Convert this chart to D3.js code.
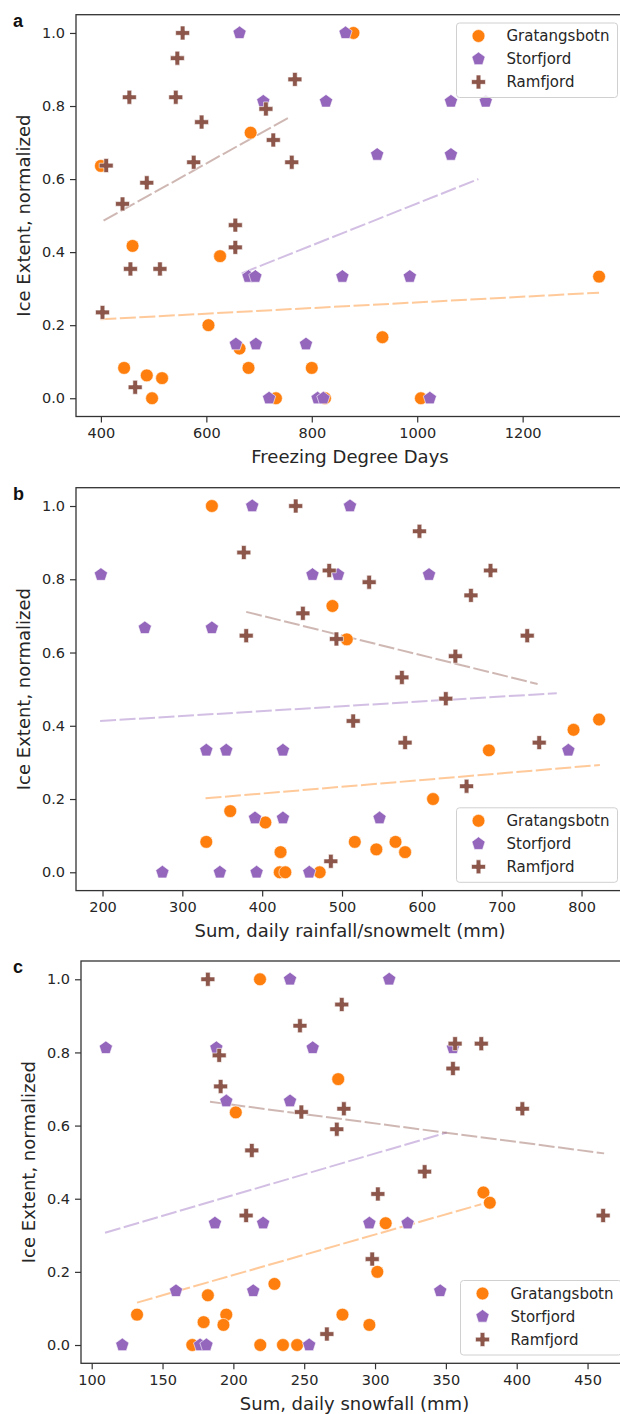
<!DOCTYPE html>
<html><head><meta charset="utf-8">
<script src="https://cdn.jsdelivr.net/npm/d3@7"></script>
<style>
body{margin:0;background:#fff}
svg{display:block}
</style>
</head><body>
<svg id="chart" width="620" height="1414"></svg>
<script>
// ---------- DATA ----------
const seriesNames = ["Gratangsbotn", "Storfjord", "Ramfjord"];
const yTicks = [0.0, 0.2, 0.4, 0.6, 0.8, 1.0];
const yLabel = "Ice Extent, normalized";

// Panel a: Freezing Degree Days
const aXLabel = "Freezing Degree Days";
const aXTicks = [400, 600, 800, 1000, 1200];
const aGratX = [400, 684, 879, 460, 626, 604, 663, 680, 444, 487, 516, 497, 732, 800, 825, 934, 1007, 1345];
const aGratY = [0.636, 0.727, 1.0, 0.417, 0.389, 0.2, 0.136, 0.083, 0.083, 0.0625, 0.055, 0, 0, 0.083, 0, 0.167, 0, 0.333];
const aStorX = [663, 708, 864, 827, 1064, 1130, 924, 1064, 680, 693, 656, 694, 789, 719, 811, 822, 858, 986, 1024];
const aStorY = [1.0, 0.8125, 1.0, 0.8125, 0.8125, 0.8125, 0.667, 0.667, 0.333, 0.333, 0.148, 0.148, 0.148, 0, 0, 0, 0.333, 0.333, 0];
const aRamX = [555, 545, 454, 542, 768, 713, 591, 727, 576, 762, 410, 487, 441, 655, 655, 456, 512, 403, 465];
const aRamY = [1.0, 0.931, 0.824, 0.824, 0.873, 0.792, 0.756, 0.707, 0.646, 0.646, 0.637, 0.590, 0.532, 0.474, 0.413, 0.354, 0.354, 0.235, 0.030];
// trend lines: [x0, y0, x1, y1]
const aGratTrend = [399, 0.216, 1345, 0.289];
const aStorTrend = [667, 0.342, 1116, 0.600];
const aRamTrend = [405, 0.486, 757, 0.769];

// Panel b: Sum, daily rainfall/snowmelt (mm)
const bXLabel = "Sum, daily rainfall/snowmelt (mm)";
const bXTicks = [200, 300, 400, 500, 600, 700, 800];
const bGratX = [337, 488, 506, 360, 404, 330, 423, 422, 429, 472, 516, 543, 567, 579, 614, 684, 790, 822];
const bGratY = [1.0, 0.727, 0.636, 0.167, 0.136, 0.083, 0.055, 0, 0, 0, 0.083, 0.0625, 0.083, 0.055, 0.2, 0.333, 0.389, 0.417];
const bStorX = [387.5, 198, 463, 253, 337, 510, 495, 609, 330, 355, 426, 391, 426, 275, 347, 393, 459, 547, 783.5];
const bStorY = [1.0, 0.8125, 0.8125, 0.667, 0.667, 1.0, 0.8125, 0.8125, 0.333, 0.333, 0.333, 0.148, 0.148, 0, 0, 0, 0, 0.148, 0.333];
const bRamX = [442, 377, 451, 380, 597, 484, 686, 534, 661.5, 732, 493, 642, 575, 630, 514, 579, 747, 656, 486];
const bRamY = [1.0, 0.873, 0.707, 0.646, 0.931, 0.824, 0.824, 0.792, 0.756, 0.646, 0.637, 0.590, 0.532, 0.474, 0.413, 0.354, 0.354, 0.235, 0.030];
const bGratTrend = [329, 0.202, 823, 0.293];
const bStorTrend = [197, 0.413, 769, 0.489];
const bRamTrend = [380, 0.711, 745, 0.514];

// Panel c: Sum, daily snowfall (mm)
const cXLabel = "Sum, daily snowfall (mm)";
const cXTicks = [100, 150, 200, 250, 300, 350, 400, 450];
const cGratX = [218.8, 201.7, 274, 132, 182, 179, 195, 193, 229, 171, 219, 235, 245, 277, 296, 301.6, 307.5, 376.5, 381];
const cGratY = [1.0, 0.636, 0.727, 0.083, 0.136, 0.0625, 0.083, 0.055, 0.167, 0, 0, 0, 0, 0.083, 0.055, 0.2, 0.333, 0.417, 0.389];
const cStorX = [240, 110, 188, 256, 195, 240, 310, 355, 187, 221, 159.5, 214, 121.6, 176.5, 181, 253.5, 296, 323, 346];
const cStorY = [1.0, 0.8125, 0.8125, 0.8125, 0.667, 0.667, 1.0, 0.8125, 0.333, 0.333, 0.148, 0.148, 0, 0, 0, 0, 0.333, 0.333, 0.148];
const cRamX = [182, 247, 190, 191, 248, 213, 276.5, 356.5, 375, 355, 278, 404, 273, 335, 209, 302, 461, 298, 266];
const cRamY = [1.0, 0.873, 0.792, 0.707, 0.637, 0.532, 0.931, 0.824, 0.824, 0.756, 0.646, 0.646, 0.590, 0.474, 0.354, 0.413, 0.354, 0.235, 0.030];
const cGratTrend = [132, 0.116, 375, 0.385];
const cStorTrend = [109.4, 0.307, 350.6, 0.581];
const cRamTrend = [183.5, 0.665, 461.7, 0.524];

// ---------- STYLE / LAYOUT ----------
const colors = ["#ff7f0e", "#9467bd", "#8c564b"];
const textColor = "#262626";
const fontFam = "'DejaVu Sans', Verdana, sans-serif";

const panels = [
  { label: "a", xLabel: aXLabel, xTicks: aXTicks, xDomain: [352.75, 1392.25],
    left: 76, right: 624, top: 14.7, bottom: 416.5, ylabX: 30,
    series: [[aGratX, aGratY, aGratTrend], [aStorX, aStorY, aStorTrend], [aRamX, aRamY, aRamTrend]],
    legendPos: "top" },
  { label: "b", xLabel: bXLabel, xTicks: bXTicks, xDomain: [166.8, 853.2],
    left: 76, right: 624, top: 487.7, bottom: 890.6, ylabX: 30,
    series: [[bGratX, bGratY, bGratTrend], [bStorX, bStorY, bStorTrend], [bRamX, bRamY, bRamTrend]],
    legendPos: "bottom" },
  { label: "c", xLabel: cXLabel, xTicks: cXTicks, xDomain: [92.45, 478.55],
    left: 81, right: 628, top: 961, bottom: 1363.3, ylabX: 35,
    series: [[cGratX, cGratY, cGratTrend], [cStorX, cStorY, cStorTrend], [cRamX, cRamY, cRamTrend]],
    legendPos: "bottom" }
];

const pentagon = {
  draw(ctx, size) {
    const R = Math.sqrt(size / 2.3776);
    for (let i = 0; i < 5; i++) {
      const a = -Math.PI / 2 + i * 2 * Math.PI / 5;
      const px = R * Math.cos(a), py = R * Math.sin(a);
      if (i) ctx.lineTo(px, py); else ctx.moveTo(px, py);
    }
    ctx.closePath();
  }
};
const symbolTypes = [d3.symbolCircle, pentagon, d3.symbolCross];
const symbolSizes = [130, 115, 108];
const symGen = seriesNames.map((_, i) => d3.symbol().type(symbolTypes[i]).size(symbolSizes[i]));

const svg = d3.select("#chart");

panels.forEach(p => {
  const x = d3.scaleLinear().domain(p.xDomain).range([p.left, p.right]);
  const y = d3.scaleLinear().domain([-0.05, 1.05]).range([p.bottom, p.top]);
  const g = svg.append("g");

  const clipId = "clip-" + p.label;
  svg.append("clipPath").attr("id", clipId).append("rect")
    .attr("x", p.left).attr("y", p.top).attr("width", p.right - p.left).attr("height", p.bottom - p.top);

  const xAxis = g.append("g").attr("transform", `translate(0,${p.bottom})`)
    .call(d3.axisBottom(x).tickValues(p.xTicks).tickSize(6).tickSizeOuter(0).tickPadding(5.5).tickFormat(d3.format("d")));
  const yAxis = g.append("g").attr("transform", `translate(${p.left},0)`)
    .call(d3.axisLeft(y).tickValues(yTicks).tickSize(6).tickSizeOuter(0).tickPadding(5).tickFormat(d3.format(".1f")));
  [xAxis, yAxis].forEach(ax => {
    ax.select(".domain").remove();
    ax.selectAll(".tick line").attr("stroke", "#333").attr("stroke-width", 1.2);
    ax.selectAll(".tick text").attr("fill", textColor).style("font-family", fontFam).style("font-size", "14.5px");
  });

  const plotG = g.append("g").attr("clip-path", `url(#${clipId})`);
  p.series.forEach((s, i) => {
    const t = s[2];
    plotG.append("line")
      .attr("x1", x(t[0])).attr("y1", y(t[1])).attr("x2", x(t[2])).attr("y2", y(t[3]))
      .attr("stroke", colors[i]).attr("stroke-opacity", 0.42).attr("stroke-width", 2)
      .attr("stroke-dasharray", "16,3.5");
  });
  p.series.forEach((s, i) => {
    const pts = s[0].map((xv, j) => [xv, s[1][j]]);
    plotG.append("g").selectAll("path").data(pts).join("path")
      .attr("d", symGen[i])
      .attr("transform", d => `translate(${x(d[0])},${y(d[1])})`)
      .attr("fill", colors[i]).attr("stroke", "#fff").attr("stroke-width", 0.6);
  });

  g.append("rect").attr("x", p.left).attr("y", p.top)
    .attr("width", p.right - p.left).attr("height", p.bottom - p.top)
    .attr("fill", "none").attr("stroke", "#333").attr("stroke-width", 1.3);

  g.append("text").attr("x", (p.left + p.right) / 2).attr("y", p.bottom + 46.5)
    .attr("text-anchor", "middle").attr("fill", textColor)
    .style("font-family", fontFam).style("font-size", "18px").text(p.xLabel);
  g.append("text").attr("transform", `translate(${p.ylabX},${(p.top + p.bottom) / 2}) rotate(-90)`)
    .attr("text-anchor", "middle").attr("fill", textColor)
    .style("font-family", fontFam).style("font-size", "18px").text(yLabel);

  g.append("text").attr("x", 13).attr("y", p.top + 12)
    .attr("fill", "#111").style("font-family", "'Liberation Sans', Arial, sans-serif")
    .style("font-weight", "bold").style("font-size", "18px").text(p.label);

  const lw = 161, lh = 74.5;
  const lx = p.right - 6.5 - lw;
  const ly = p.legendPos === "top" ? p.top + 8.3 : p.bottom - 8.3 - lh;
  const lg = g.append("g");
  lg.append("rect").attr("x", lx).attr("y", ly).attr("width", lw).attr("height", lh)
    .attr("rx", 3).attr("fill", "#fff").attr("fill-opacity", 0.85)
    .attr("stroke", "#d0d0d0").attr("stroke-width", 1);
  const rows = [13, 36, 59];
  seriesNames.forEach((name, i) => {
    lg.append("path").attr("d", symGen[i]())
      .attr("transform", `translate(${lx + 22},${ly + rows[i]})`)
      .attr("fill", colors[i]).attr("stroke", "#fff").attr("stroke-width", 0.6);
    lg.append("text").attr("x", lx + 50).attr("y", ly + rows[i] + 5.3)
      .attr("fill", textColor).style("font-family", fontFam).style("font-size", "15px").text(name);
  });
});
</script>
</body></html>
